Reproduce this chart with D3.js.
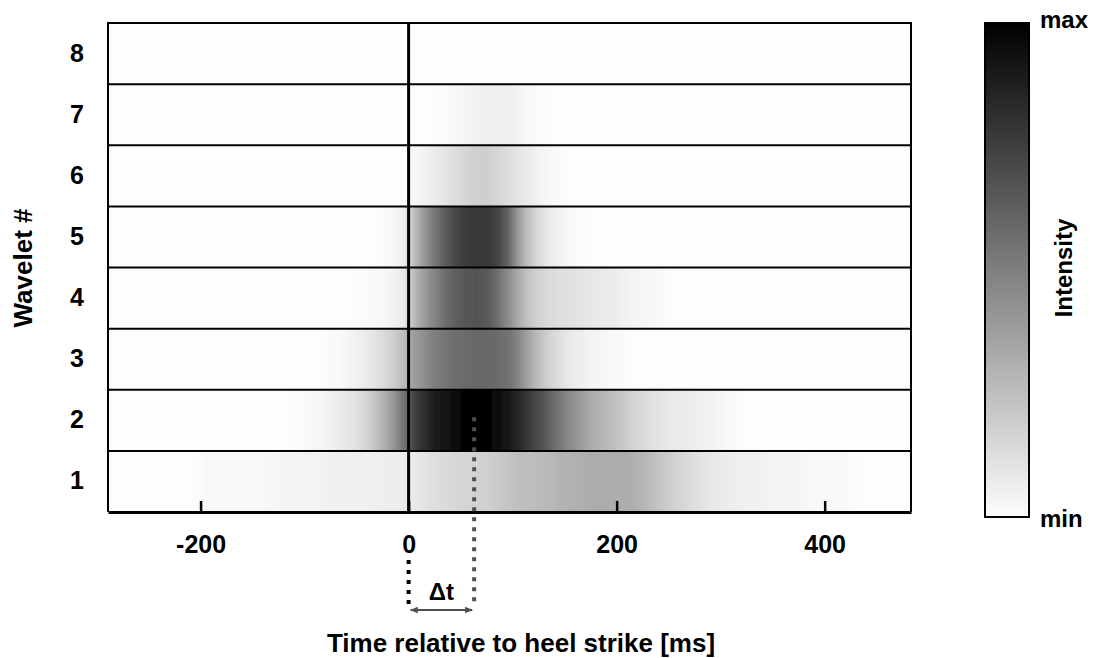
<!DOCTYPE html>
<html lang="en">
<head>
	<meta charset="UTF-8">
	<title>Wavelet intensity</title>
	<script src="https://cdn.jsdelivr.net/npm/d3@7/dist/d3.min.js"></script>
	<style>
		body { margin: 0; background: #fff; }
		text { font-family: "Liberation Sans", Arial, sans-serif; font-weight: bold; fill: #000; }
	</style>
</head>
<body>
	<div id="vis"></div>

	<script>
		var width = 1094;
		var height = 658;

		// time grid (ms, start of each 10 ms cell) and wavelet rows
		var times = d3.range(-290, 490, 10);
		var wavelets = [8, 7, 6, 5, 4, 3, 2, 1];
		var xTicks = [-200, 0, 200, 400];
		var deltaT = 63;

		// intensity per cell, 0 = min, 1 = max; one line = 10 cells
		var w8 = [
			0,0,0,0,0,0,0,0,0,0,
			0,0,0,0,0,0,0,0,0,0,
			0,0,0,0,0,0,0,0,0,0,
			0,0,0,0,0,0,0,0,0,0,
			0,0,0,0,0,0,0,0,0,0,
			0,0,0,0,0,0,0,0,0,0,
			0,0,0,0,0,0,0,0,0,0,
			0,0,0,0,0,0,0,0];
		var w7 = [
			0,0,0,0,0,0,0,0,0,0,
			0,0,0,0,0,0,0,0,0,0,
			0,0,0,0,0,0,0,0,0,0,
			0,0,0.01,0.02,0.03,0.04,0.05,0.05,0.05,0.04,
			0.02,0.01,0,0,0,0,0,0,0,0,
			0,0,0,0,0,0,0,0,0,0,
			0,0,0,0,0,0,0,0,0,0,
			0,0,0,0,0,0,0,0];
		var w6 = [
			0,0,0,0,0,0,0,0,0,0,
			0,0,0,0,0,0,0,0,0,0,
			0,0,0,0,0,0,0,0,0,0.02,
			0.04,0.07,0.1,0.13,0.16,0.18,0.18,0.16,0.13,0.1,
			0.07,0.04,0.02,0.01,0,0,0,0,0,0,
			0,0,0,0,0,0,0,0,0,0,
			0,0,0,0,0,0,0,0,0,0,
			0,0,0,0,0,0,0,0];
		var w5 = [
			0,0,0,0,0,0,0,0,0,0,
			0,0,0,0,0,0,0,0,0,0,
			0,0,0,0,0,0,0.01,0.02,0.06,0.25,
			0.4,0.53,0.64,0.72,0.77,0.78,0.78,0.74,0.62,0.4,
			0.24,0.14,0.08,0.04,0.02,0.01,0,0,0,0,
			0,0,0,0,0,0,0,0,0,0,
			0,0,0,0,0,0,0,0,0,0,
			0,0,0,0,0,0,0,0];
		var w4 = [
			0,0,0,0,0,0,0,0,0,0,
			0,0,0,0,0,0,0,0,0,0,
			0,0,0,0,0.01,0.01,0.02,0.04,0.07,0.27,
			0.38,0.48,0.57,0.63,0.66,0.67,0.65,0.57,0.46,0.33,
			0.23,0.17,0.14,0.12,0.11,0.1,0.09,0.08,0.07,0.05,
			0.04,0.03,0.02,0.01,0,0,0,0,0,0,
			0,0,0,0,0,0,0,0,0,0,
			0,0,0,0,0,0,0,0];
		var w3 = [
			0,0,0,0,0,0,0,0,0,0,
			0,0,0,0,0,0,0,0,0,0,
			0,0.01,0.02,0.04,0.06,0.09,0.13,0.18,0.26,0.38,
			0.44,0.5,0.54,0.57,0.58,0.59,0.59,0.58,0.56,0.48,
			0.36,0.25,0.17,0.12,0.08,0.06,0.04,0.03,0.02,0.01,
			0,0,0,0,0,0,0,0,0,0,
			0,0,0,0,0,0,0,0,0,0,
			0,0,0,0,0,0,0,0];
		var w2 = [
			0,0,0,0,0,0,0,0,0,0,
			0,0,0,0,0,0,0,0,0.01,0.02,
			0.03,0.05,0.07,0.1,0.14,0.2,0.29,0.4,0.55,0.75,
			0.82,0.88,0.93,0.97,1,1,0.98,0.95,0.9,0.85,
			0.78,0.7,0.62,0.53,0.45,0.39,0.33,0.29,0.25,0.21,
			0.17,0.14,0.11,0.09,0.08,0.07,0.06,0.05,0.04,0.02,
			0.01,0,0,0,0,0,0,0,0,0,
			0,0,0,0,0,0,0,0];
		var w1 = [
			0,0,0,0,0,0,0,0,0,0.02,
			0.02,0.02,0.02,0.02,0.02,0.02,0.03,0.03,0.04,0.04,
			0.04,0.05,0.05,0.05,0.05,0.05,0.06,0.06,0.07,0.08,
			0.1,0.12,0.14,0.15,0.16,0.17,0.18,0.2,0.22,0.24,
			0.25,0.26,0.27,0.29,0.3,0.31,0.32,0.32,0.32,0.32,
			0.31,0.29,0.25,0.21,0.17,0.15,0.12,0.1,0.08,0.07,
			0.06,0.05,0.05,0.04,0.03,0.03,0.03,0.02,0.02,0.02,
			0.01,0.01,0,0,0,0,0,0];

		var rowValues = { 8: w8, 7: w7, 6: w6, 5: w5, 4: w4, 3: w3, 2: w2, 1: w1 };

		var svg = d3.select("#vis").append("svg")
				.attr("width", width)
				.attr("height", height);

		// plot box
		var plotL = 108, plotR = 911, plotT = 23, plotB = 512;

		var x = d3.scaleLinear().domain([-289, 483]).range([plotL, plotR]);
		var y = d3.scaleBand().domain(wavelets).range([plotT, plotB]);
		var color = d3.scaleLinear().domain([0, 1]).range(["#fdfdfd", "#000000"]);

		var defs = svg.append("defs");
		defs.append("clipPath").attr("id", "plotClip")
			.append("rect")
			.attr("x", plotL).attr("y", plotT)
			.attr("width", plotR - plotL).attr("height", plotB - plotT);

		var blur = defs.append("filter").attr("id", "hblur")
			.attr("x", "-5%").attr("y", "0%").attr("width", "110%").attr("height", "100%");
		blur.append("feGaussianBlur").attr("stdDeviation", "3.5 0");

		// heatmap cells
		var cells = [];
		wavelets.forEach(function(w) {
			rowValues[w].forEach(function(v, i) {
				cells.push({ w: w, t: times[i], v: v });
			});
		});

		svg.append("g").attr("clip-path", "url(#plotClip)")
			.append("g").attr("filter", "url(#hblur)")
			.selectAll("rect")
			.data(cells)
			.join("rect")
				.attr("x", function(d) { return x(d.t); })
				.attr("y", function(d) { return y(d.w); })
				.attr("width", x(10) - x(0) + 0.5)
				.attr("height", y.bandwidth())
				.attr("fill", function(d) { return color(d.v); })
				.attr("shape-rendering", "crispEdges");

		// row separators
		svg.append("g").selectAll("line")
			.data(wavelets.slice(0, -1))
			.join("line")
				.attr("x1", plotL).attr("x2", plotR)
				.attr("y1", function(d) { return y(d) + y.bandwidth(); })
				.attr("y2", function(d) { return y(d) + y.bandwidth(); })
				.attr("stroke", "#000")
				.attr("stroke-width", 2);

		// frame (left, top, right)
		svg.append("path")
			.attr("d", "M" + plotL + "," + plotB + "V" + plotT + "H" + plotR + "V" + plotB)
			.attr("fill", "none")
			.attr("stroke", "#000")
			.attr("stroke-width", 2);

		// heel strike line
		svg.append("line")
			.attr("x1", x(0)).attr("x2", x(0))
			.attr("y1", plotT).attr("y2", plotB)
			.attr("stroke", "#000")
			.attr("stroke-width", 3);

		// x axis, ticks pointing up
		var xAxis = svg.append("g")
			.attr("transform", "translate(0," + plotB + ")")
			.call(d3.axisBottom(x).tickValues(xTicks)
				.tickFormat(function(d) { return String(d); })
				.tickSizeInner(-11).tickSizeOuter(0).tickPadding(23));
		xAxis.select(".domain").attr("stroke-width", 3);
		xAxis.selectAll(".tick line").attr("stroke-width", 2.5);
		xAxis.selectAll("text").attr("font-size", 25).attr("font-family", null);

		// y axis labels
		var yAxis = svg.append("g")
			.attr("transform", "translate(" + plotL + ",0)")
			.call(d3.axisLeft(y).tickSize(0).tickPadding(24));
		yAxis.select(".domain").remove();
		yAxis.selectAll("text").attr("font-size", 25).attr("font-family", null);

		// delta t annotation
		svg.append("line")
			.attr("x1", x(deltaT)).attr("x2", x(deltaT))
			.attr("y1", y(2) + y.bandwidth() * 0.45).attr("y2", 607)
			.attr("stroke", "#505050")
			.attr("stroke-width", 4)
			.attr("stroke-dasharray", "4,6");

		svg.append("line")
			.attr("x1", x(0)).attr("x2", x(0))
			.attr("y1", 560).attr("y2", 607)
			.attr("stroke", "#000")
			.attr("stroke-width", 4)
			.attr("stroke-dasharray", "4,6");

		defs.append("marker")
			.attr("id", "arrow")
			.attr("viewBox", "0 0 10 10")
			.attr("refX", 9).attr("refY", 5)
			.attr("markerWidth", 4).attr("markerHeight", 4)
			.attr("orient", "auto-start-reverse")
			.append("path")
			.attr("d", "M0,1 L10,5 L0,9 Z")
			.attr("fill", "#505050");

		svg.append("line")
			.attr("x1", x(0) + 2).attr("x2", x(deltaT) - 2)
			.attr("y1", 610).attr("y2", 610)
			.attr("stroke", "#505050")
			.attr("stroke-width", 2)
			.attr("marker-start", "url(#arrow)")
			.attr("marker-end", "url(#arrow)");

		svg.append("text")
			.attr("x", (x(0) + x(deltaT)) / 2)
			.attr("y", 600)
			.attr("text-anchor", "middle")
			.attr("font-size", 24)
			.attr("font-weight", "normal")
			.text("\u0394t");

		// axis titles
		svg.append("text")
			.attr("x", 521).attr("y", 652)
			.attr("text-anchor", "middle")
			.attr("font-size", 26)
			.text("Time relative to heel strike [ms]");

		svg.append("text")
			.attr("transform", "translate(32,268) rotate(-90)")
			.attr("text-anchor", "middle")
			.attr("font-size", 26)
			.text("Wavelet #");

		// colour bar
		var grad = defs.append("linearGradient")
			.attr("id", "cbar")
			.attr("x1", 0).attr("y1", 1).attr("x2", 0).attr("y2", 0);
		grad.selectAll("stop")
			.data([0, 0.25, 0.5, 0.75, 1])
			.join("stop")
				.attr("offset", function(d) { return d; })
				.attr("stop-color", function(d) { return color(d); });

		svg.append("rect")
			.attr("x", 985).attr("y", plotT)
			.attr("width", 44).attr("height", 494)
			.attr("fill", "url(#cbar)")
			.attr("stroke", "#000")
			.attr("stroke-width", 2);

		svg.append("text")
			.attr("x", 1040).attr("y", 28)
			.attr("font-size", 24)
			.text("max");

		svg.append("text")
			.attr("x", 1040).attr("y", 527)
			.attr("font-size", 24)
			.text("min");

		svg.append("text")
			.attr("transform", "translate(1072,268) rotate(-90)")
			.attr("text-anchor", "middle")
			.attr("font-size", 24)
			.text("Intensity");
	</script>
</body>
</html>
